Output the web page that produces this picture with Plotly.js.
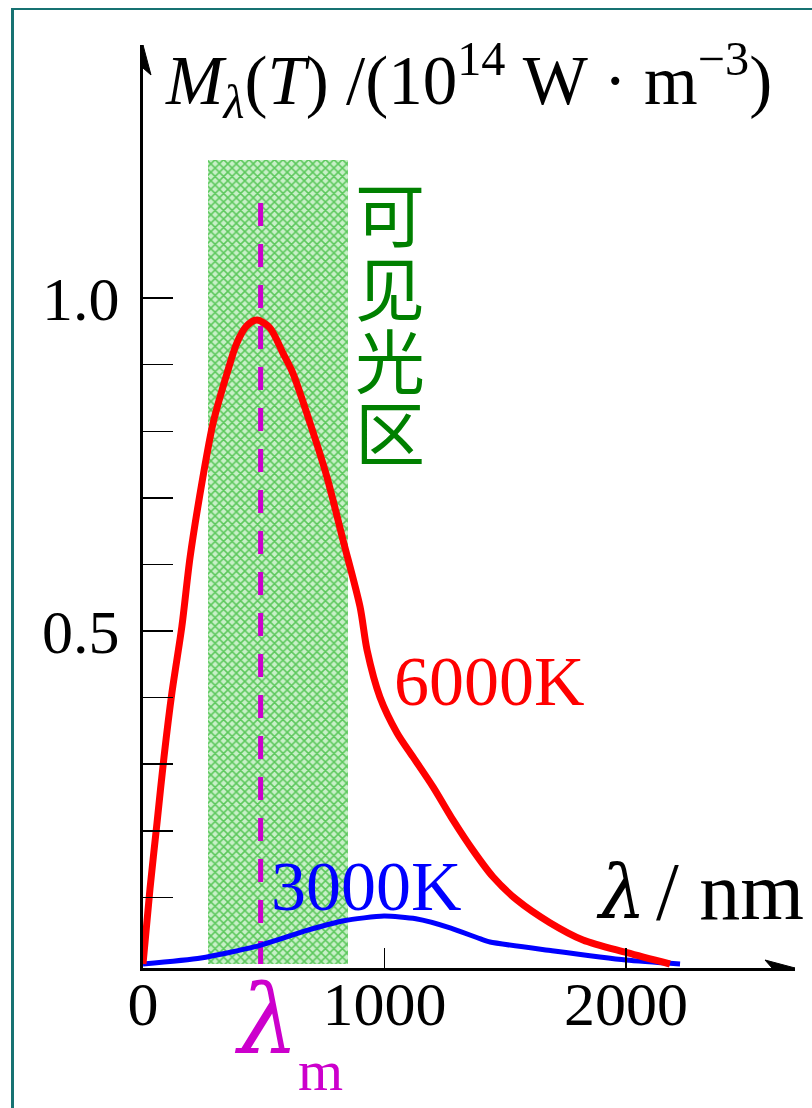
<!DOCTYPE html>
<html><head><meta charset="utf-8">
<script src="https://cdn.plot.ly/plotly-3.0.1.min.js"></script>
<style>
html,body{margin:0;padding:0;background:#fff;}
#wrap{position:relative;width:812px;height:1108px;overflow:hidden;}
#chart{width:812px;height:1108px;}
#frame{position:absolute;left:11px;top:8px;width:900px;height:1200px;border-left:3px solid #177272;border-top:2px solid #177272;pointer-events:none;}
</style>
</head><body><div id="wrap"><div id="chart"></div><div id="frame"></div></div>
<script>
// ---- data ----
const wavelength6000 = [0, 29, 58, 87, 120, 161, 195, 248, 290, 348, 388, 429, 472, 526, 580, 621, 692, 762, 828, 899, 928, 981, 1052, 1118, 1201, 1284, 1366, 1449, 1549, 1685, 1822, 2004, 2182];
const radiance6000   = [0, 0.113, 0.212, 0.311, 0.408, 0.507, 0.611, 0.731, 0.812, 0.887, 0.932, 0.958, 0.967, 0.955, 0.917, 0.887, 0.812, 0.731, 0.637, 0.536, 0.471, 0.401, 0.347, 0.311, 0.266, 0.216, 0.171, 0.131, 0.096, 0.062, 0.036, 0.017, 0];
const wavelength3000 = [0, 240, 464, 683, 832, 998, 1130, 1275, 1395, 1437, 1694, 2000, 2224];
const radiance3000   = [0, 0.009, 0.026, 0.051, 0.065, 0.072, 0.068, 0.054, 0.038, 0.033, 0.020, 0.006, 0];
const visibleBand = [270, 850];
const visibleTop = 1.207;
const lambdaM = 487;
const lambdaMTop = 1.147;
const yTickVals = [0.5, 1.0];
const yTickText = ['0.5', '1.0'];
const yMinorTickVals = [0.1, 0.2, 0.3, 0.4, 0.6, 0.7, 0.8, 0.9];
const xTickVals = [0, 1000, 2000];
const xTickText = ['0', '1000', '2000'];
const bandChars = ['可', '见', '光', '区'];
const curveLabels = ['6000K', '3000K'];

// ---- layout geometry ----
const W = 812, H = 1108;
const mL = 143, mR = 17, mT = 45, mB = 140;
const plotW = W - mL - mR, plotH = H - mT - mB;
const px = p => (p - mL) / plotW;          // pixel -> paper x
const py = p => (H - mB - p) / plotH;      // pixel -> paper y
const serif = 'Liberation Serif, Times New Roman, serif';
const greekFont = 'DejaVu Serif, serif';
const xMax = 2700, yMin = -0.006, yMax = 1.38;

const traces = [
  {
    type: 'bar', x: [(visibleBand[0] + visibleBand[1]) / 2], y: [visibleTop],
    width: [visibleBand[1] - visibleBand[0]], base: [0],
    marker: {color: '#8fdc8f', line: {width: 0},
      pattern: {shape: 'x', fgcolor: '#5cc85c', bgcolor: '#c8f0c8', size: 6, solidity: 0.45}},
    hoverinfo: 'skip', showlegend: false
  },
  {
    type: 'scatter', mode: 'lines', x: [lambdaM, lambdaM], y: [0, lambdaMTop],
    line: {color: '#cc00cc', width: 5, dash: '23px,18px'}, showlegend: false, hoverinfo: 'skip'
  },
  {
    type: 'scatter', mode: 'lines', x: wavelength3000, y: radiance3000,
    line: {color: '#0000ff', width: 5, shape: 'spline', smoothing: 0.6}, showlegend: false
  },
  {
    type: 'scatter', mode: 'lines', x: wavelength6000, y: radiance6000,
    line: {color: '#ff0000', width: 7, shape: 'spline', smoothing: 0.8}, showlegend: false
  }
];

function ann(xp, yp, text, size, color, family) {
  return {xref: 'paper', yref: 'paper', x: px(xp), y: py(yp), xanchor: 'center', yanchor: 'middle',
    showarrow: false, text: text, font: {family: family || serif, size: size, color: color}};
}

const annotations = [
  Object.assign(ann(163, 80, '<i>M</i><sub><i>λ</i></sub>(<i>T</i>) /(10<sup>14</sup> W · m<sup>−3</sup>)', 69, '#000'),
    {xanchor: 'left'}),
  ann(489, 681, curveLabels[0], 70, '#ff0000'),
  ann(366, 886, curveLabels[1], 70, '#0000ff'),
  ann(621, 892, '<i>λ</i>', 74, '#000', greekFont),
  ann(730, 891, '/ nm', 82, '#000'),
  ann(266, 1020, '<i>λ</i>', 96, '#cc00cc', greekFont),
  ann(320, 1070, 'm', 58, '#cc00cc')
];
bandChars.forEach((c, i) => {
  annotations.push(ann(390, 212 + i * 73, c, 70, '#008000', 'Noto Sans CJK SC, sans-serif'));
});

const shapes = [
  {type: 'path', xref: 'x', yref: 'y', xsizemode: 'pixel', ysizemode: 'pixel', xanchor: xMax, yanchor: yMin,
   path: 'M0,0 L-30,8 L-23,0 L-30,-8 Z', fillcolor: '#000', line: {color: '#000', width: 1}},
  {type: 'path', xref: 'x', yref: 'y', xsizemode: 'pixel', ysizemode: 'pixel', xanchor: 0, yanchor: yMax,
   path: 'M0,0 L-8,-30 L0,-23 L8,-30 Z', fillcolor: '#000', line: {color: '#000', width: 1}}
];

const layout = {
  width: W, height: H, margin: {l: mL, r: mR, t: mT, b: mB},
  paper_bgcolor: '#fff', plot_bgcolor: 'rgba(0,0,0,0)',
  showlegend: false, bargap: 0,
  xaxis: {range: [0, xMax], showgrid: false, zeroline: false, showline: true, linewidth: 3, linecolor: '#000',
    tickmode: 'array', tickvals: xTickVals, ticktext: xTickText, ticks: 'inside', ticklen: 20, tickwidth: 1.5,
    tickcolor: '#000', tickfont: {family: serif, size: 62, color: '#000'}, ticklabelstandoff: -20, fixedrange: true},
  yaxis: {range: [yMin, yMax], showgrid: false, zeroline: false, showline: true, linewidth: 3, linecolor: '#000',
    tickmode: 'array', tickvals: yTickVals, ticktext: yTickText, ticks: 'inside', ticklen: 30, tickwidth: 1.5,
    tickcolor: '#000', tickfont: {family: serif, size: 62, color: '#000'}, ticklabelstandoff: 8, fixedrange: true,
    minor: {tickmode: 'array', tickvals: yMinorTickVals, ticks: 'inside', ticklen: 30, tickwidth: 1.5, tickcolor: '#000', showgrid: false}},
  annotations: annotations, shapes: shapes
};

Plotly.newPlot('chart', traces, layout, {displayModeBar: false, staticPlot: true});
</script>
</body></html>
